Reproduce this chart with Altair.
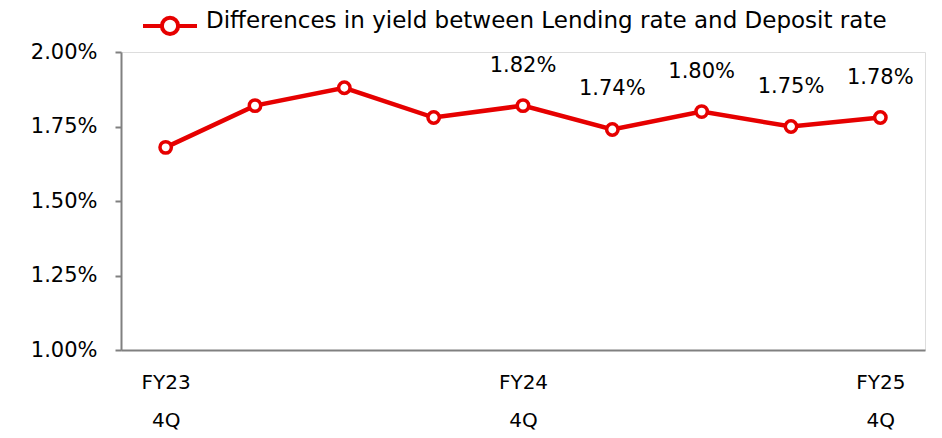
import altair as alt
import pandas as pd

quarters = ["FY23 4Q", "FY24 1Q", "FY24 2Q", "FY24 3Q", "FY24 4Q",
            "FY25 1Q", "FY25 2Q", "FY25 3Q", "FY25 4Q"]
values = [1.68, 1.82, 1.88, 1.78, 1.82, 1.74, 1.80, 1.75, 1.78]
show_label = [False, False, False, False, True, True, True, True, True]
series_name = "Differences in yield between Lending rate and Deposit rate"

df = pd.DataFrame({"q": quarters, "v": values, "show": show_label,
                   "s": [series_name] * len(quarters)})

RED = "#e60000"
FONT = "DejaVu Sans"

x = alt.X("q:N", sort=quarters, title=None,
          scale=alt.Scale(paddingInner=0, paddingOuter=0.5),
          axis=alt.Axis(labelExpr="indexof(datum.value,'4Q')>=0 ? split(datum.value,' ') : ''",
                        labelAngle=0, ticks=False, domainColor="#808080", domainWidth=2,
                        labelFont=FONT, labelFontSize=20, labelColor="#000",
                        labelLineHeight=38, labelPadding=22, labelBaseline="top"))
y = alt.Y("v:Q", title=None,
          scale=alt.Scale(domain=[1.0, 2.0]),
          axis=alt.Axis(values=[1.0, 1.25, 1.5, 1.75, 2.0],
                        labelExpr="format(datum.value,'.2f')+'%'",
                        grid=False, domainColor="#808080", domainWidth=2,
                        tickColor="#808080", tickWidth=2, tickSize=6,
                        labelFont=FONT, labelFontSize=21, labelColor="#000",
                        labelPadding=18))

legend_path = ("M-2,0.4 L-0.6,0.4 M0.6,0.4 L2,0.4 "
               "M-0.6,0.4 A0.6,0.6 0 1,0 0.6,0.4 A0.6,0.6 0 1,0 -0.6,0.4")

color = alt.Color("s:N", scale=alt.Scale(range=[RED]),
                  legend=alt.Legend(title=None, orient="none", legendX=33.5, legendY=-47,
                                    symbolType=legend_path, symbolSize=729,
                                    symbolStrokeWidth=4, symbolFillColor="white",
                                    symbolStrokeColor=RED, labelFont=FONT,
                                    labelFontSize=23, labelColor="#000",
                                    labelOffset=20.5, padding=0, labelLimit=900))

base = alt.Chart(df)
line = base.mark_line(strokeWidth=4.5, color=RED).encode(x=x, y=y, color=color)
points = base.mark_point(shape="circle", filled=True, fill="white", stroke=RED,
                         strokeWidth=3.5, size=130, opacity=1).encode(x=x, y=y)
labels = base.transform_filter("datum.show").transform_calculate(
    t="format(datum.v,'.2f')+'%'").mark_text(
    dy=-40, font=FONT, fontSize=21, color="#000").encode(x=x, y=y, text="t:N")

chart = alt.layer(line, points, labels).properties(
    width=804, height=298,
    autosize=alt.AutoSizeParams(type="none"),
    padding={"left": 113, "top": 44, "right": 9, "bottom": 80},
).configure_view(stroke=None).configure(background="white")

chart.save("out.html", embed_options={"renderer": "svg", "actions": False})
